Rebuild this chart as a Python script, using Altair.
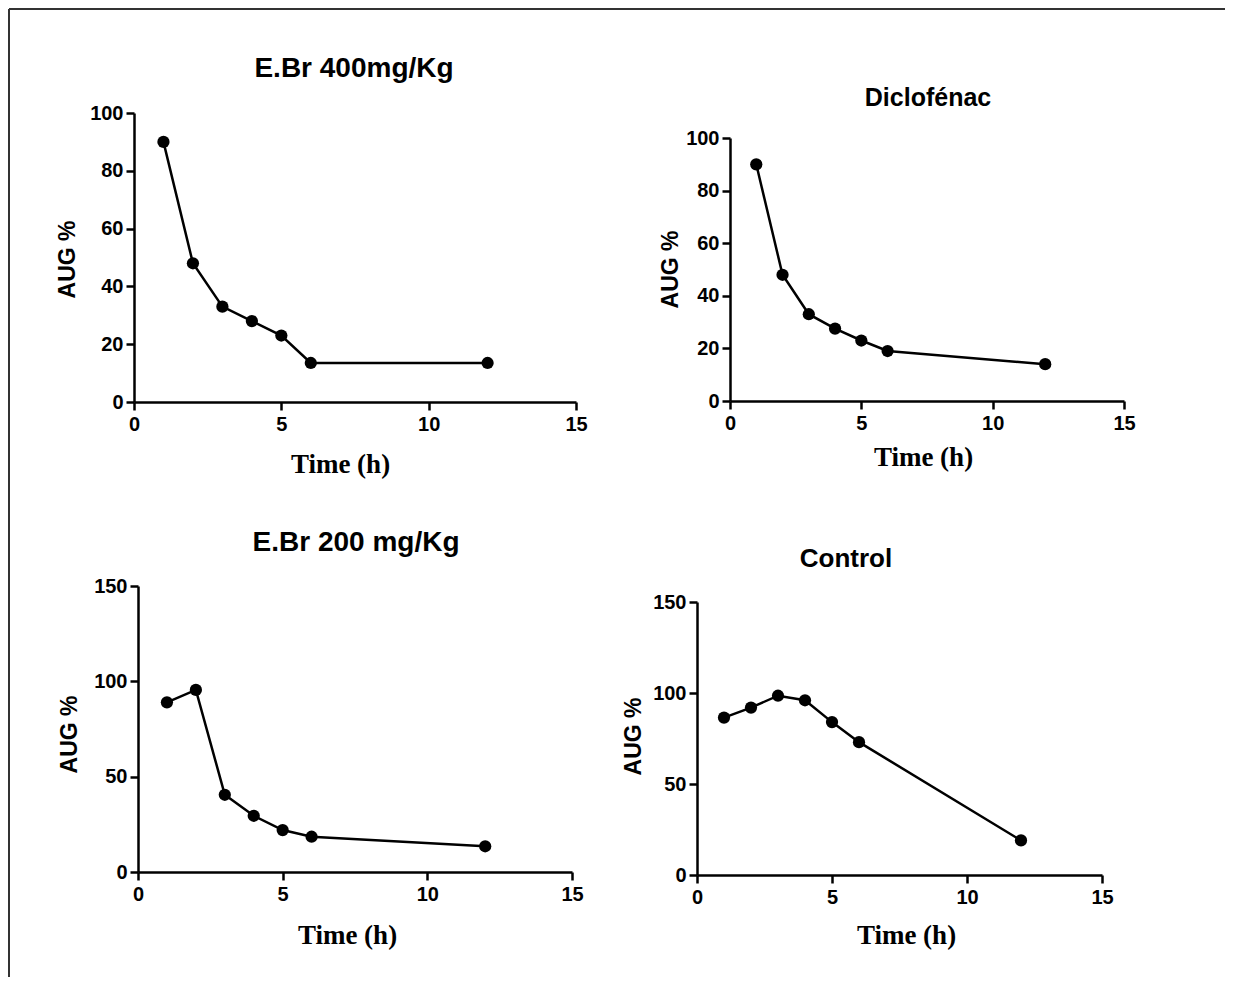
import altair as alt
import pandas as pd

# ---- data ----
TIME = [1, 2, 3, 4, 5, 6, 12]
EBR400 = [90, 48, 33, 28, 23, 13.5, 13.5]
DICLO = [90, 48, 33, 27.5, 23, 19, 14]
EBR200 = [89, 95.5, 40.5, 29.5, 22, 18.5, 13.5]
CONTROL = [86.5, 92, 98.5, 96, 84, 73, 19]
TITLES = ["E.Br 400mg/Kg", "Diclofénac", "E.Br 200 mg/Kg", "Control"]
X_TICKS = [0, 5, 10, 15]
Y_TICKS_A = [0, 20, 40, 60, 80, 100]
Y_TICKS_B = [0, 50, 100, 150]
X_TITLE = "Time (h)"
Y_TITLE = "AUG %"

CELL_W, CELL_H = 445, 296
SANS = "Liberation Sans"
SERIF = "Liberation Serif"


def panel(values, title, ymax, yticks, xrange, yrange, xaxis_off, yaxis_off,
          title_xy, title_size, xt_xy, yt_xy, frame=False):
    df = pd.DataFrame({"t": TIME, "v": values})
    common_axis = dict(
        domainColor="black", domainWidth=2.5, tickColor="black", tickWidth=2.5,
        tickSize=8, labelFont=SANS, labelFontWeight="bold", labelFontSize=20,
        labelColor="black", labelFlush=False, labelOverlap=False, grid=False,
    )
    x = alt.X(
        "t:Q",
        scale=alt.Scale(domain=[0, 15], range=xrange, nice=False, zero=False),
        axis=alt.Axis(
            values=X_TICKS, title=X_TITLE, offset=xaxis_off, labelPadding=4,
            titleFont=SERIF, titleFontWeight="bold", titleFontSize=27,
            titleColor="black", titleX=xt_xy[0], titleY=xt_xy[1],
            titleAlign="center", titleBaseline="middle", titleAngle=0,
            **common_axis,
        ),
    )
    y = alt.Y(
        "v:Q",
        scale=alt.Scale(domain=[0, ymax], range=yrange, nice=False, zero=False),
        axis=alt.Axis(
            values=yticks, title=Y_TITLE, offset=yaxis_off, labelPadding=3,
            titleFont=SANS, titleFontWeight="bold", titleFontSize=23,
            titleColor="black", titleX=yt_xy[0], titleY=yt_xy[1],
            titleAlign="center", titleBaseline="middle", titleAngle=270,
            **common_axis,
        ),
    )
    base = alt.Chart(df)
    line = base.mark_line(color="black", strokeWidth=2.5).encode(x=x, y=y)
    pts = base.mark_circle(color="black", size=150, opacity=1).encode(x=x, y=y)
    ttl = alt.Chart(pd.DataFrame({"title": [title]})).mark_text(
        font=SANS, fontWeight="bold", fontSize=title_size, color="black",
        align="center", baseline="middle",
    ).encode(x=alt.value(title_xy[0]), y=alt.value(title_xy[1]), text="title:N")
    layers = [line, pts, ttl]
    if frame:
        one = pd.DataFrame({"k": [0]})
        vline = alt.Chart(one).mark_rule(color="#333333", strokeWidth=2).encode(
            x=alt.value(-125), y=alt.value(-97), y2=alt.value(871))
        hline = alt.Chart(one).mark_rule(color="#333333", strokeWidth=2).encode(
            x=alt.value(-125), x2=alt.value(1091), y=alt.value(-97))
        layers += [vline, hline]
    return alt.layer(*layers).properties(width=CELL_W, height=CELL_H)


p1 = panel(EBR400, TITLES[0], 100, Y_TICKS_A, [0, 442], [296, 7], 0, 0,
           (220, -37), 28, (206, 62), (-67, 153), frame=True)
p2 = panel(DICLO, TITLES[1], 100, Y_TICKS_A, [33, 427], [295, 32], -1, -33,
           (231, -8), 25, (226, 56), (-60, 163))
p3 = panel(EBR200, TITLES[2], 150, Y_TICKS_B, [4, 438], [293, 7], -3, -4,
           (222, -36), 28, (213, 63), (-69, 155))
p4 = panel(CONTROL, TITLES[3], 150, Y_TICKS_B, [0, 405], [296, 23], 0, 0,
           (149, -20), 26, (209, 60), (-64, 157))

chart = alt.concat(
    p1, p2, p3, p4, columns=2, bounds="flush",
    spacing={"row": 177, "column": 118},
).properties(padding=0, background="white").configure_view(strokeWidth=0)

chart.save("out.html", embed_options={"renderer": "svg", "actions": False})
